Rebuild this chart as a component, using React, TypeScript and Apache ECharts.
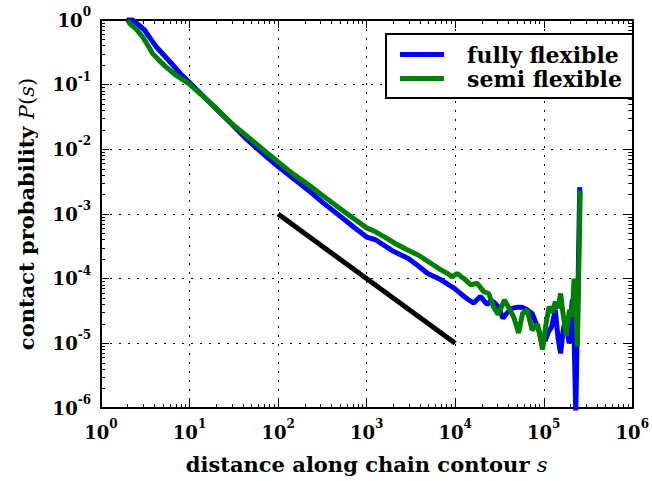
import React, { useEffect, useRef } from 'react';
import * as echarts from 'echarts';

// fully flexible chain
const sFully = [2, 2.5, 3.1, 3.6, 4.2, 6, 8, 9.8, 15, 20, 30, 45, 70, 100, 150, 240, 320, 500, 700, 1000, 1260, 2000, 2960, 4000, 4900, 6900, 9800, 11000, 12600, 14500, 16200, 19200, 21000, 23000, 25000, 27000, 30500, 34600, 39000, 44600, 50000, 57500, 65000, 74000, 80000, 87600, 95000, 104000, 113000, 123000, 135000, 145000, 155000, 165000, 177000, 186000, 194000, 202000, 210000, 216000, 230000, 255000];
const pFully = [1.15, 0.9, 0.7, 0.52, 0.386, 0.226, 0.145, 0.111, 0.062, 0.042, 0.0245, 0.014, 0.0082, 0.0054, 0.0035, 0.0021, 0.0015, 0.00093, 0.00064, 0.00044, 0.0004, 0.000265, 0.000205, 0.00015, 0.00012, 0.000096, 0.000071, 0.000062, 0.000053, 0.000046, 0.000042, 0.000053, 0.000046, 0.00004, 0.000045, 0.000044, 0.000037, 0.0000245, 0.00003, 0.000035, 0.000036, 0.000036, 0.000033, 0.000029, 0.000022, 0.000016, 0.000012, 0.000011, 0.000015, 0.000018, 0.000033, 0.000012, 0.000007, 0.000015, 0.000026, 0.000014, 0.00001, 0.000025, 0.000047, 0.000045, 0.0000008, 0.0026];

// semi flexible chain
const sSemi = [2, 2.1, 2.5, 2.95, 3.4, 3.81, 4.5, 5.37, 7, 9.75, 15, 20, 30, 45, 70, 100, 150, 240, 320, 500, 700, 1000, 1260, 1600, 2100, 2800, 3850, 4500, 5300, 6900, 8200, 9200, 10500, 12600, 15000, 17700, 21000, 23900, 27000, 30600, 36000, 41500, 46000, 52000, 57600, 65000, 74000, 85000, 97000, 106000, 115000, 125000, 135000, 145000, 155000, 165000, 180000, 195000, 210000, 220000, 240000, 258000];
const pSemi = [1.0, 0.89, 0.72, 0.55, 0.4, 0.305, 0.24, 0.19, 0.14, 0.105, 0.062, 0.043, 0.025, 0.0158, 0.0095, 0.0064, 0.0041, 0.0026, 0.00192, 0.00122, 0.00087, 0.00061, 0.00053, 0.00044, 0.00035, 0.000285, 0.00023, 0.0002, 0.000173, 0.000137, 0.00012, 0.000107, 0.00012, 0.0001, 0.00008, 0.000085, 0.000063, 0.000059, 0.000037, 0.000028, 0.000047, 0.000033, 0.000025, 0.0000145, 0.000029, 0.000033, 0.000016, 0.00002, 0.000008, 0.00002, 0.000037, 0.00003, 0.000044, 0.000035, 0.000059, 0.000029, 0.000013, 0.000033, 0.000026, 0.0001, 0.0000089, 0.0023];

// reference power law s^-1
const sRef = [100, 10000];
const pRef = [0.001, 0.00001];

const xMin = 1;
const xMax = 1e6;
const yMin = 1e-6;
const yMax = 1;

const seriesNames = ['fully flexible', 'semi flexible'];
const colors = ['#0000ff', '#008000', '#000000'];

function minorTicks(lo: number, hi: number): number[] {
  const out: number[] = [];
  for (let e = Math.round(Math.log10(lo)); e < Math.round(Math.log10(hi)); e++) {
    for (let m = 2; m <= 9; m++) out.push(m * Math.pow(10, e));
  }
  return out;
}

const FONT = 'DejaVu Serif';
const labelRich = {
  b: { fontFamily: FONT, fontWeight: 'bold', fontSize: 18, color: '#000', lineHeight: 28 },
  s: { fontFamily: FONT, fontWeight: 'bold', fontSize: 12, color: '#000', lineHeight: 12, verticalAlign: 'top' },
};
const nameRich = {
  t: { fontFamily: FONT, fontWeight: 'bold', fontSize: 21, color: '#000' },
  i: { fontFamily: FONT, fontStyle: 'italic', fontWeight: 'normal', fontSize: 21, color: '#000' },
  n: { fontFamily: FONT, fontWeight: 'normal', fontSize: 21, color: '#000' },
};
const expFormatter = (v: number) => `{b|10}{s|${Math.round(Math.log10(v))}}`;

const grid = { left: 101, top: 20, width: 540, height: 388 };

function mainAxis(pos: string, isX: boolean, withLabels: boolean): any {
  return {
    type: 'log',
    logBase: 10,
    min: isX ? xMin : yMin,
    max: isX ? xMax : yMax,
    splitNumber: 6,
    position: pos,
    axisLine: { show: true, onZero: false, lineStyle: { color: '#000', width: 2 } },
    axisTick: { show: true, inside: true, length: 8, lineStyle: { color: '#000', width: 1 } },
    axisLabel: withLabels
      ? { show: true, formatter: expFormatter, rich: labelRich, margin: isX ? 10 : 10, showMinLabel: true, showMaxLabel: true }
      : { show: false },
    splitLine: withLabels
      ? { show: true, lineStyle: { color: '#000', width: 1, type: [2, 7] } }
      : { show: false },
  };
}
function minorAxis(pos: string, isX: boolean): any {
  return {
    type: 'log',
    logBase: 10,
    min: isX ? xMin : yMin,
    max: isX ? xMax : yMax,
    splitNumber: 6,
    position: pos,
    axisLine: { show: false },
    axisTick: {
      show: true,
      inside: true,
      length: 4,
      lineStyle: { color: '#000', width: 1 },
      customValues: isX ? minorTicks(xMin, xMax) : minorTicks(yMin, yMax),
    },
    axisLabel: { show: false },
    splitLine: { show: false },
  };
}

export default function App() {
  const ref = useRef<HTMLDivElement>(null);
  useEffect(() => {
    if (!ref.current) return;
    const chart = echarts.init(ref.current, null, { renderer: 'svg' });
    const xMain = mainAxis('bottom', true, true);
    xMain.name = '{t|distance along chain contour }{i|s}';
    xMain.nameLocation = 'middle';
    xMain.nameGap = 46;
    xMain.nameTextStyle = { rich: nameRich };
    const yMain = mainAxis('left', false, true);
    yMain.name = '{t|contact probability }{i|P}{n|(}{i|s}{n|)}';
    yMain.nameLocation = 'middle';
    yMain.nameGap = 64;
    yMain.nameTextStyle = { rich: nameRich };
    chart.setOption({
      animation: false,
      color: colors,
      grid,
      xAxis: [xMain, minorAxis('bottom', true), mainAxis('top', true, false), minorAxis('top', true)],
      yAxis: [yMain, minorAxis('left', false), mainAxis('right', false, false), minorAxis('right', false)],
      legend: {
        data: seriesNames,
        orient: 'vertical',
        left: 386,
        top: 34,
        padding: [9, 11, 8, 14],
        itemGap: 1,
        itemWidth: 44,
        itemHeight: 5,
        icon: 'rect',
        borderColor: '#000',
        borderWidth: 2,
        borderRadius: 0,
        backgroundColor: '#fff',
        textStyle: { fontFamily: FONT, fontWeight: 'bold', fontSize: 22, color: '#000', lineHeight: 23, padding: [0, 0, 0, 18] },
      },
      series: [
        {
          name: seriesNames[0],
          type: 'line',
          data: sFully.map((s, i) => [s, pFully[i]]),
          showSymbol: false,
          symbol: 'none',
          lineStyle: { color: colors[0], width: 5 },
          itemStyle: { color: colors[0] },
          clip: true,
          z: 3,
        },
        {
          name: seriesNames[1],
          type: 'line',
          data: sSemi.map((s, i) => [s, pSemi[i]]),
          showSymbol: false,
          symbol: 'none',
          lineStyle: { color: colors[1], width: 5 },
          itemStyle: { color: colors[1] },
          clip: true,
          z: 4,
        },
        {
          name: 'reference',
          type: 'line',
          data: sRef.map((s, i) => [s, pRef[i]]),
          showSymbol: false,
          symbol: 'none',
          lineStyle: { color: colors[2], width: 5 },
          itemStyle: { color: colors[2] },
          clip: true,
          z: 5,
        },
      ],
    });
    return () => chart.dispose();
  }, []);
  return <div ref={ref} style={{ width: 652, height: 481, position: 'absolute', left: 0, top: 0, background: '#fff' }} />;
}
